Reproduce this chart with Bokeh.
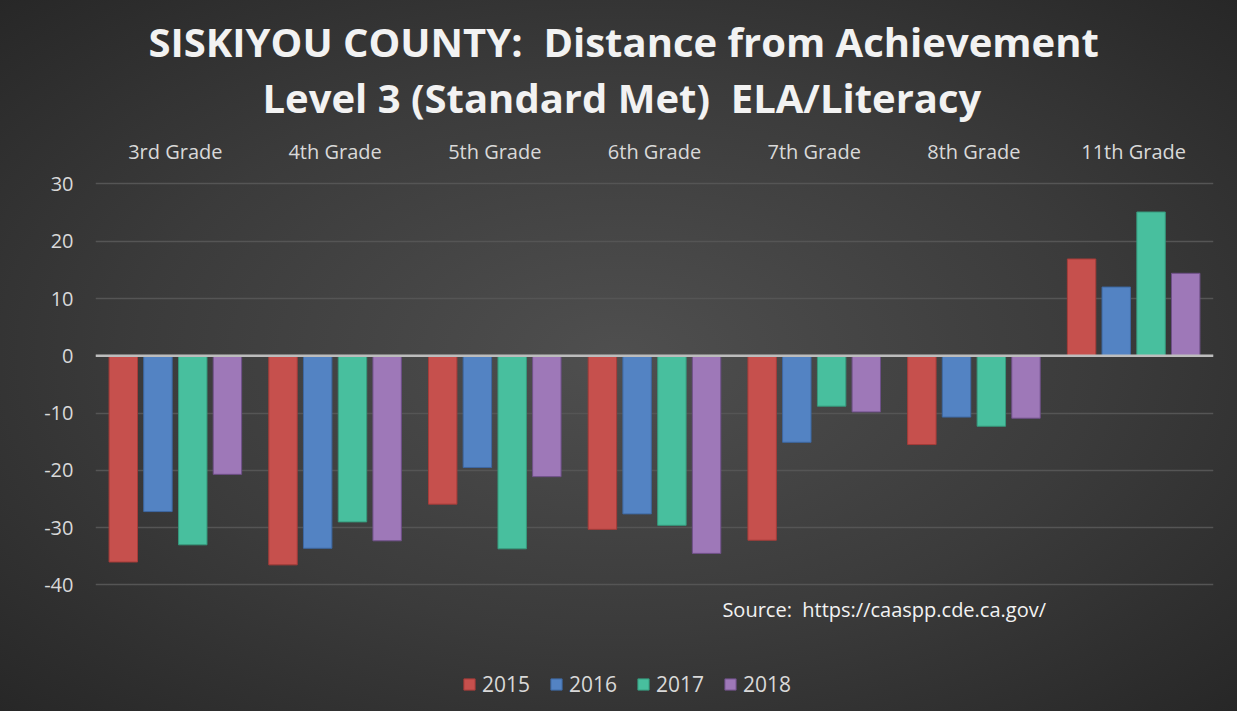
from bokeh.plotting import figure
from bokeh.models import (ColumnDataSource, Span, Title, Label, Legend, LegendItem,
                          FixedTicker, FactorRange, Range1d, PrintfTickFormatter)
from bokeh.transform import dodge
from bokeh.embed import file_html
from bokeh.resources import INLINE

# ---------------- data ----------------
grades = ["3rd Grade", "4th Grade", "5th Grade", "6th Grade", "7th Grade", "8th Grade", "11th Grade"]
years = ["2015", "2016", "2017", "2018"]
v2015 = [-36.0, -36.5, -25.9, -30.3, -32.2, -15.5, 16.9]
v2016 = [-27.2, -33.6, -19.5, -27.6, -15.1, -10.7, 12.0]
v2017 = [-33.0, -29.0, -33.7, -29.6, -8.8, -12.3, 25.1]
v2018 = [-20.7, -32.3, -21.1, -34.5, -9.8, -10.9, 14.4]
y_ticks = [-40, -30, -20, -10, 0, 10, 20, 30]
title_line1 = "SISKIYOU COUNTY: \u00a0Distance from Achievement"
title_line2 = "Level 3 (Standard Met) \u00a0ELA/Literacy"
source_note = "Source: \u00a0https://caaspp.cde.ca.gov/"

fills = ["#c6504d", "#5383c3", "#48bf9e", "#9e78b8"]
edges = ["#a63c39", "#3d68a3", "#36997c", "#6f5089"]
offsets = [-0.326, -0.109, 0.109, 0.326]
bar_w = 0.178

FONT = "Open Sans"
TXT = "#d9d9d9"

src = ColumnDataSource(dict(grade=grades, v2015=v2015, v2016=v2016, v2017=v2017, v2018=v2018))

p = figure(width=1237, height=711, x_range=FactorRange(*grades), y_range=Range1d(-62.1, 31.3),
           x_axis_location="above", output_backend="svg", toolbar_location=None,
           min_border_left=95, min_border_right=24, min_border_top=176, min_border_bottom=0)
p.title = None
p.border_fill_color = None
p.background_fill_color = None
p.outline_line_color = None
p.styles = {"background": "radial-gradient(ellipse at 50% 50%, #4f4f4f 0%, #3b3b3b 55%, #272727 100%)"}

renderers = []
for yr, col, fc, ec, off in zip(years, ["v2015", "v2016", "v2017", "v2018"], fills, edges, offsets):
    r = p.vbar(x=dodge("grade", off, range=p.x_range), top=col, bottom=0, width=bar_w, source=src,
               fill_color=fc, line_color=ec, line_width=1)
    renderers.append((yr, r))

p.add_layout(Span(location=0, dimension="width", line_color="#bdbdbd", line_width=2.5))

# axes
xa = p.xaxis[0]
xa.axis_line_color = None
xa.major_tick_line_color = None
xa.minor_tick_line_color = None
xa.major_label_text_font = FONT
xa.major_label_text_font_size = "20px"
xa.major_label_text_color = TXT
xa.major_label_standoff = 6

ya = p.yaxis[0]
ya.ticker = FixedTicker(ticks=y_ticks)
ya.formatter = PrintfTickFormatter(format="%d")
ya.axis_line_color = None
ya.major_tick_line_color = None
ya.minor_tick_line_color = None
ya.major_label_text_font = FONT
ya.major_label_text_font_size = "20px"
ya.major_label_text_color = TXT
ya.major_label_standoff = 16

p.xgrid.grid_line_color = None
p.ygrid.ticker = FixedTicker(ticks=y_ticks)
p.ygrid.grid_line_color = "#555555"
p.ygrid.grid_line_width = 1.5

# titles (line 2 closest to plot)
t2 = Title(text=title_line2, align="left", offset=167, text_font=FONT, text_font_size="40px",
           text_font_style="bold", text_color="#f2f2f2", standoff=20)
t1 = Title(text=title_line1, align="left", offset=53, text_font=FONT, text_font_size="40px",
           text_font_style="bold", text_color="#f2f2f2", standoff=-22)
p.add_layout(t2, "above")
p.add_layout(t1, "above")

# source note
p.add_layout(Label(x=3.925, y=-44.3, text=source_note, text_font=FONT, text_font_size="20px",
                   text_color="#f2f2f2", text_baseline="middle", text_align="left"))

legend = Legend(items=[LegendItem(label=yr, renderers=[r]) for yr, r in renderers],
                orientation="horizontal", location=(367, 13),
                background_fill_alpha=0, border_line_color=None,
                label_text_font=FONT, label_text_font_size="21px", label_text_color=TXT,
                glyph_width=14, glyph_height=14, label_standoff=6, spacing=19,
                margin=0, padding=4)
p.add_layout(legend)

open("out.html", "w").write(file_html(p, INLINE))
